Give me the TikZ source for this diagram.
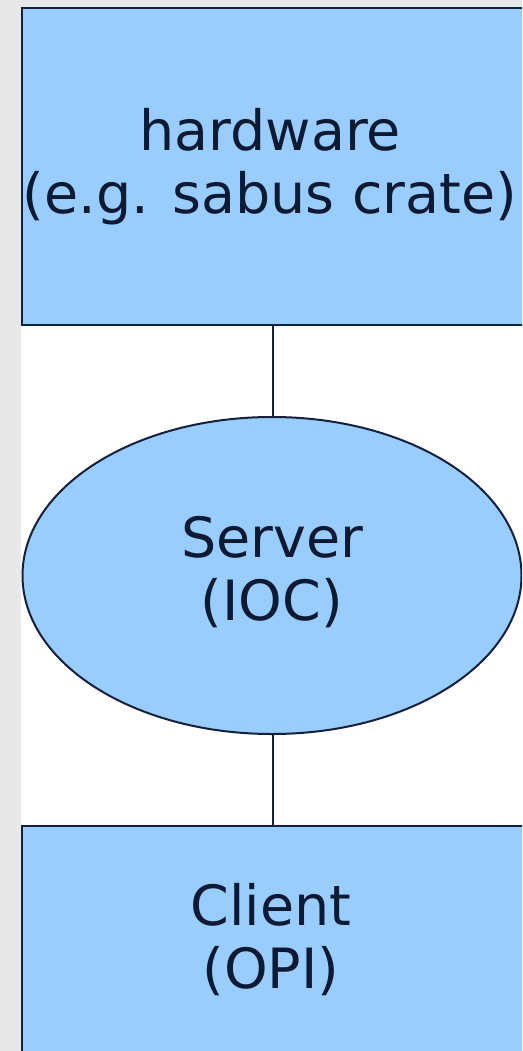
\documentclass[tikz,border=0pt]{standalone}
\usepackage{fontspec}
\setmainfont{DejaVu Sans}
\usetikzlibrary{shapes.geometric}
\definecolor{boxfill}{HTML}{99CCFF}
\definecolor{edge}{HTML}{15203A}
\definecolor{ink}{HTML}{0D1A33}
\definecolor{margin}{HTML}{E8E8E8}
\begin{document}
\begin{tikzpicture}[x=1pt,y=-1pt,
  block/.style={draw=edge,line width=2.3pt,fill=boxfill},
  label/.style={text=ink,font=\fontsize{55.5}{63}\selectfont,align=center},
  link/.style={draw=edge,line width=2pt}]
\useasboundingbox (0,0) rectangle (522,1051);
\clip (0,0) rectangle (522,1051);
\fill[white] (0,0) rectangle (522,1051);
\fill[margin] (0,0) rectangle (21,1051);
\fill[margin] (0,0) rectangle (522,7);
% blocks
\draw[block] (22,8) rectangle (540,325);
\draw[block] (22,826) rectangle (540,1070);
\node[block,ellipse,line width=2pt,minimum width=499pt,minimum height=317pt,inner sep=0pt] (srv) at (272,575.5) {};
\coordinate (hwb) at (273,325);
\coordinate (clt) at (273,826);
\draw[link] (hwb) -- (hwb |- srv.north);
\draw[link] (hwb |- srv.south) -- (clt);
% labels
\node[label] (hw) at (270,167) {hardware\\(e.g. sabus crate)};
\node[label] (srvtxt) at (272,572) {Server\\(IOC)};
\node[label] (cl) at (271,940) {Client\\(OPI)};
\end{tikzpicture}
\end{document}
